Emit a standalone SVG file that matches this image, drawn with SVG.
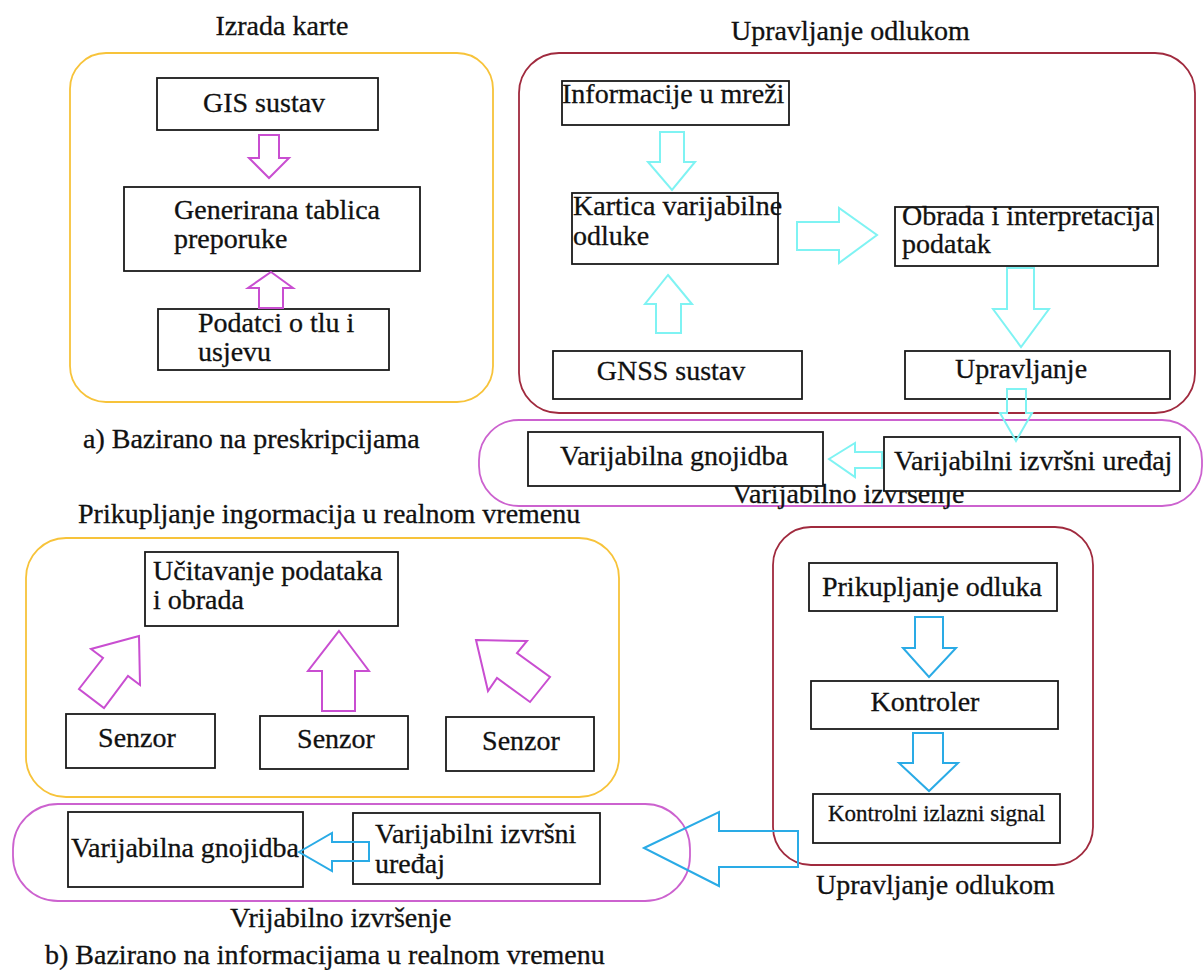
<svg xmlns="http://www.w3.org/2000/svg" width="1204" height="970" viewBox="0 0 1204 970" font-family="'Liberation Serif', 'Times New Roman', Tinos, 'DejaVu Serif', serif">
<style>
text{font-family:'Liberation Serif','Times New Roman',Tinos,'DejaVu Serif',serif;font-size:28px;fill:#111;stroke:#111;stroke-width:0.3}
.sm{font-size:23px}
.mid{text-anchor:middle}
.box{fill:#fff;stroke:#1a1a1a;stroke-width:1.8}
.cy{fill:none;stroke:#f7c33a;stroke-width:1.8}
.cr{fill:none;stroke:#a02a3e;stroke-width:1.8}
.cp{fill:none;stroke:#cc62cf;stroke-width:1.8}
.am{fill:none;stroke:#c94ed1;stroke-width:2}
.ac{fill:none;stroke:#7ff3f3;stroke-width:2}
.ab{fill:none;stroke:#2aabe6;stroke-width:2}
</style>
<rect width="1204" height="970" fill="#fff"/>
<g id="containers">
<rect id="izrada-karte" class="cy" x="70" y="53" width="423" height="349" rx="36"/>
<rect id="upravljanje-top" class="cr" x="519" y="53" width="676" height="360" rx="40"/>
<rect id="izvrsenje-top" class="cp" x="479" y="420" width="723" height="86" rx="40"/>
<rect id="prikupljanje" class="cy" x="26" y="538" width="593" height="259" rx="40"/>
<rect id="upravljanje-bottom" class="cr" x="773" y="527" width="320" height="338" rx="38"/>
<rect id="izvrsenje-bottom" class="cp" x="13" y="804" width="677" height="97" rx="45"/>
</g>
<g id="labels">
<text class="mid" x="282" y="35">Izrada karte</text>
<text x="731" y="40">Upravljanje odlukom</text>
<text x="83" y="448">a) Bazirano na preskripcijama</text>
<text x="732" y="503">Varijabilno izvršenje</text>
<text x="78" y="523">Prikupljanje ingormacija u realnom vremenu</text>
<text x="816" y="894">Upravljanje odlukom</text>
<text x="230" y="927">Vrijabilno izvršenje</text>
<text x="45" y="964">b) Bazirano na informacijama u realnom vremenu</text>
</g>
<g id="gis"><rect class="box" x="157" y="78" width="221" height="52"/><text x="203" y="112">GIS sustav</text></g>
<g id="generirana"><rect class="box" x="124" y="187" width="296" height="84"/><text x="174" y="219">Generirana tablica</text><text x="174" y="248">preporuke</text></g>
<g id="podatci"><rect class="box" x="158" y="309" width="231" height="61"/><text x="198" y="332">Podatci o tlu i</text><text x="198" y="361">usjevu</text></g>
<g id="informacije"><rect class="box" x="562" y="81" width="227" height="44"/><text x="562" y="103">Informacije u mreži</text></g>
<g id="kartica"><rect class="box" x="572" y="193" width="206" height="71"/><text x="573" y="215">Kartica varijabilne</text><text x="573" y="245">odluke</text></g>
<g id="obrada"><rect class="box" x="895" y="207" width="263" height="59"/><text x="902" y="225">Obrada i interpretacija</text><text x="902" y="253">podatak</text></g>
<g id="gnss"><rect class="box" x="553" y="351" width="249" height="48"/><text class="mid" x="671" y="380">GNSS sustav</text></g>
<g id="upravljanje"><rect class="box" x="905" y="351" width="265" height="48"/><text class="mid" x="1021" y="378">Upravljanje</text></g>
<g id="gnojidba-top"><rect class="box" x="528" y="432" width="295" height="54"/><text class="mid" x="674" y="465">Varijabilna gnojidba</text></g>
<g id="izvrsni-top"><rect class="box" x="884" y="437" width="296" height="54"/><text x="894" y="470">Varijabilni izvršni uređaj</text></g>
<g id="ucitavanje"><rect class="box" x="145" y="552" width="253" height="74"/><text x="153" y="580">Učitavanje podataka</text><text x="153" y="609">i obrada</text></g>
<g id="senzor1"><rect class="box" x="66" y="714" width="149" height="54"/><text class="mid" x="137" y="747">Senzor</text></g>
<g id="senzor2"><rect class="box" x="260" y="716" width="148" height="53"/><text class="mid" x="336" y="748">Senzor</text></g>
<g id="senzor3"><rect class="box" x="446" y="717" width="148" height="54"/><text class="mid" x="521" y="750">Senzor</text></g>
<g id="prikupljanje-odluka"><rect class="box" x="809" y="563" width="248" height="48"/><text class="mid" x="932" y="596">Prikupljanje odluka</text></g>
<g id="kontroler"><rect class="box" x="811" y="681" width="247" height="48"/><text class="mid" x="925" y="711">Kontroler</text></g>
<g id="kontrolni"><rect class="box" x="813" y="794" width="247" height="49"/><text class="sm" x="828" y="821">Kontrolni izlazni signal</text></g>
<g id="gnojidba-bottom"><rect class="box" x="68" y="812" width="235" height="75"/><text x="71" y="857">Varijabilna gnojidba</text></g>
<g id="izvrsni-bottom"><rect class="box" x="353" y="813" width="247" height="71"/><text x="375" y="843">Varijabilni izvršni</text><text x="375" y="873">uređaj</text></g>
<g id="connectors">
<polygon class="am" points="259,135 279,135 279,158 289,158 269,178 249,158 259,158"/>
<polygon class="am" points="271,272 293,288 283,288 283,308 259,308 259,288 248,288"/>
<polygon class="am" points="139,636 91,649 103,658 79,689 104,708 128,676 140,685"/>
<polygon class="am" points="339,631 369,671 355,671 355,711 322,711 322,671 308,671"/>
<polygon class="am" points="476,640 527,641 517,653 550,677 530,702 497,678 488,691"/>
<polygon class="ac" points="660,132 684,132 684,162 695,162 672,190 648,162 660,162"/>
<polygon class="ac" points="668,275 692,304 681,304 681,333 656,333 656,304 645,304"/>
<polygon class="ac" points="797,222 839,222 839,208 877,235 839,263 839,250 797,250"/>
<polygon class="ac" points="1007,268 1034,268 1034,309 1049,309 1021,347 993,309 1007,309"/>
<polygon class="ac" points="1007,389 1026,389 1026,413 1032,413 1016,441 1000,413 1007,413"/>
<polygon class="ac" points="829,459 855,443 855,452 882,452 882,468 855,468 855,477"/>
<polygon class="ab" points="915,617 943,617 943,648 956,648 929,677 903,648 915,648"/>
<polygon class="ab" points="913,733 943,733 943,763 958,763 929,791 899,763 913,763"/>
<polygon class="ab" points="644,848 719,812 719,831 798,831 798,867 719,867 719,886"/>
<polygon class="ab" points="299,852 332,833 332,842 369,842 369,861 332,861 332,871"/>
</g>
</svg>
